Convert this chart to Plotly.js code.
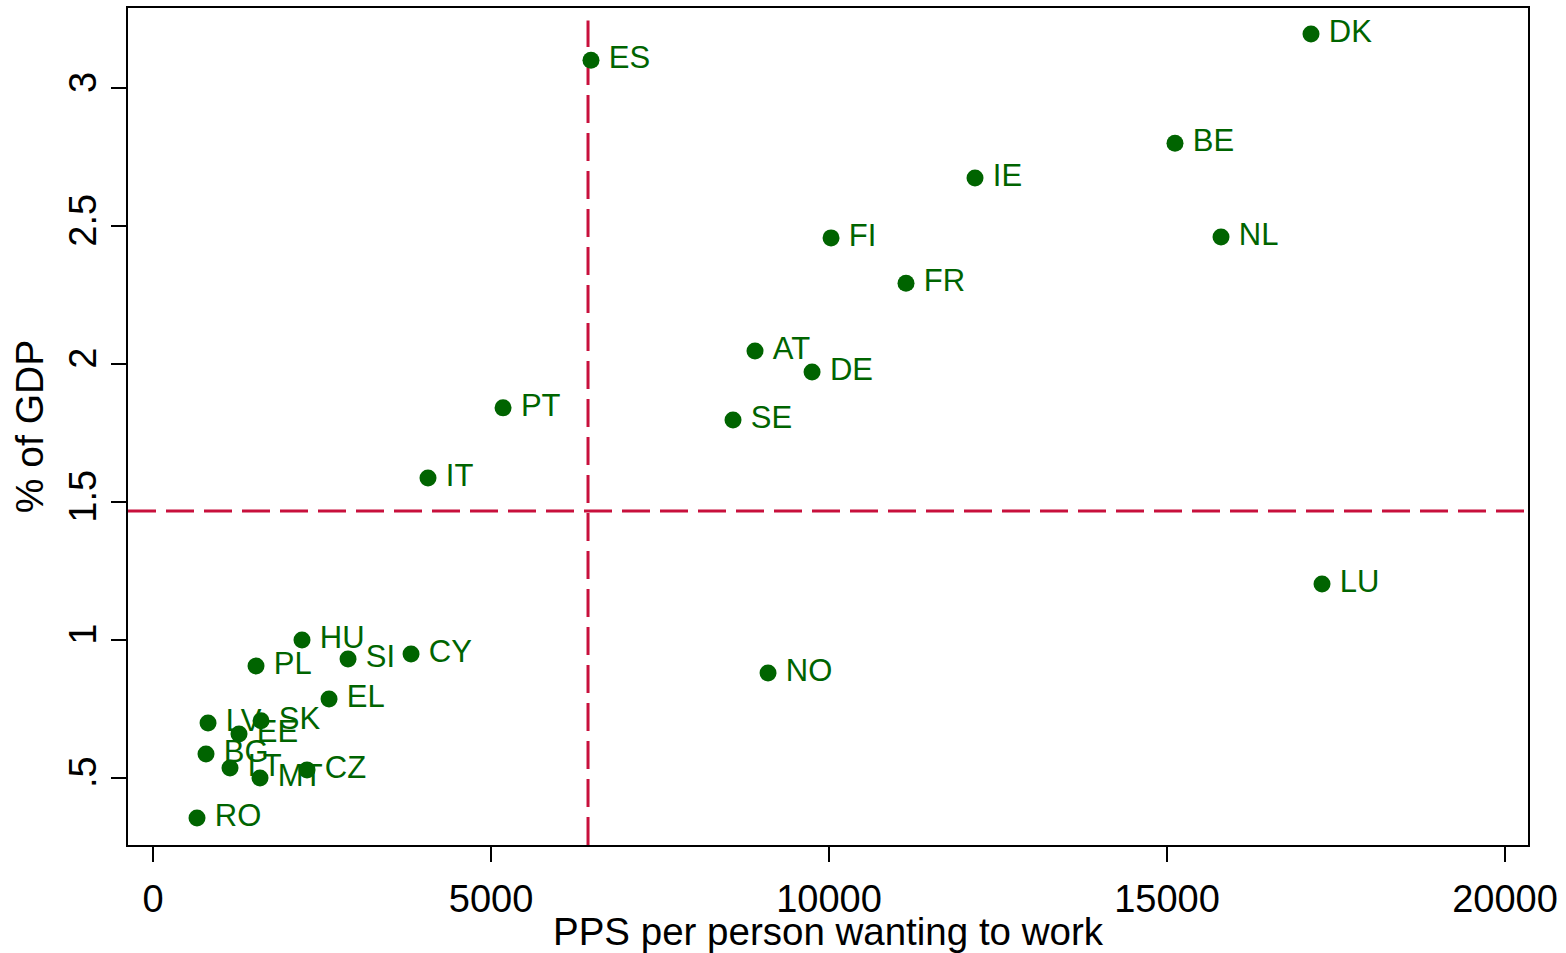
<!DOCTYPE html>
<html>
<head>
<meta charset="utf-8">
<script src="https://cdn.plot.ly/plotly-3.0.1.min.js"></script>
<style>html,body{margin:0;padding:0;background:#fff;} #chart{width:1566px;height:953px;}</style>
</head>
<body>
<div id="chart"></div>
<script>
const countries = ["DK","ES","BE","IE","NL","FI","FR","AT","DE","SE","PT","IT","LU","NO","HU","SI","CY","PL","EL","LV","SK","EE","BG","LT","MT","CZ","RO"];
const ppsPerPerson = [17130,6479,15118,12160,15799,10030,11139,8905,9749,8580,5178,4068,17293,9098,2204,2885,3817,1524,2604,814,1598,1272,784,1139,1583,2278,651];
const pctGDP = [3.196,3.101,2.80,2.674,2.46,2.457,2.293,2.047,1.971,1.797,1.841,1.587,1.203,0.880,1.0,0.931,0.949,0.906,0.786,0.699,0.707,0.659,0.587,0.536,0.50,0.529,0.355];
const meanPPS = 6435;
const meanGDP = 1.467;
const yTickVals = [0.5,1,1.5,2,2.5,3];
const yTickText = [".5","1","1.5","2","2.5","3"];
const xTickVals = [0,5000,10000,15000,20000];
const xTickText = ["0","5000","10000","15000","20000"];

const green = "#006400";
const red = "#C8103C";
const fontFam = "Liberation Sans, Arial, sans-serif";

const trace = {
  type: "scatter",
  mode: "markers+text",
  x: ppsPerPerson,
  y: pctGDP,
  text: countries.map(c => "\u2009" + c),
  textposition: "middle right",
  textfont: {family: fontFam, size: 31, color: green},
  marker: {color: green, size: 17},
  hoverinfo: "x+y+text",
  cliponaxis: false
};

const layout = {
  width: 1566, height: 953,
  margin: {l: 128, r: 38, t: 8, b: 108},
  paper_bgcolor: "#fff", plot_bgcolor: "#fff",
  showlegend: false,
  font: {family: fontFam, color: "#000"},
  xaxis: {
    range: [-370, 20340],
    tickvals: xTickVals, ticktext: xTickText,
    ticks: "outside", ticklen: 15, tickwidth: 1.5, tickcolor: "#000",
    showgrid: false, zeroline: false,
    showline: true, linecolor: "#000", linewidth: 2, mirror: true,
    tickfont: {size: 38, family: fontFam, color: "#000"},
    ticklabelstandoff: 4,
    title: {text: "PPS per person wanting to work", font: {size: 38.5, family: fontFam, color: "#000"}, standoff: 2}
  },
  yaxis: {
    range: [0.257, 3.29],
    tickvals: yTickVals, ticktext: yTickText,
    tickangle: -90,
    ticks: "outside", ticklen: 15, tickwidth: 1.5, tickcolor: "#000",
    showgrid: false, zeroline: false,
    showline: true, linecolor: "#000", linewidth: 2, mirror: true,
    tickfont: {size: 38, family: fontFam, color: "#000"},
    title: {text: "% of GDP", font: {size: 39, family: fontFam, color: "#000"}, standoff: 6}
  },
  shapes: [
    {type: "line", xref: "x", yref: "paper", x0: meanPPS, x1: meanPPS, y0: 0, y1: 0.985, line: {color: red, width: 3, dash: "28px,10px"}, layer: "below"},
    {type: "line", xref: "paper", yref: "y", x0: 0, x1: 1, y0: meanGDP, y1: meanGDP, line: {color: red, width: 3, dash: "28px,10px"}, layer: "below"}
  ]
};

Plotly.newPlot("chart", [trace], layout, {displayModeBar: false, staticPlot: true});
</script>
</body>
</html>
